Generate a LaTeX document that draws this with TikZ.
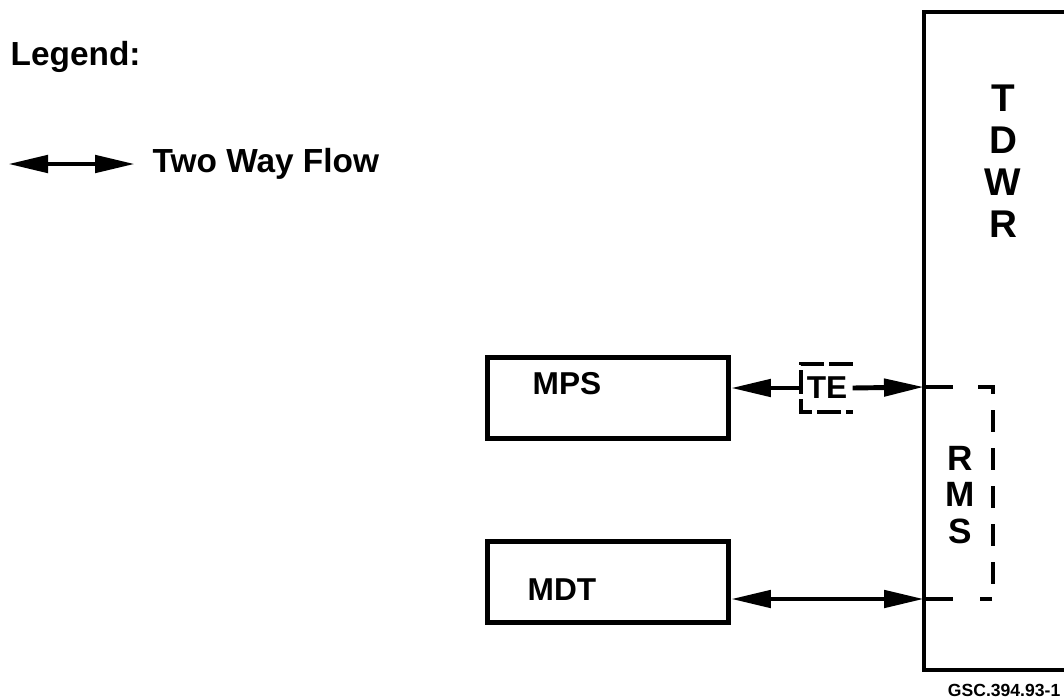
\documentclass[tikz,border=0pt]{standalone}
\usepackage{fontspec}
\setmainfont{Liberation Sans}
\usetikzlibrary{positioning,arrows.meta}

\tikzset{
  box/.style={draw, line width=1.4pt, minimum width=24.1mm, minimum height=8.1mm},
  tip/.style={Triangle[length=4mm,width=1.7mm]},
  flow/.style={line width=1.4pt, {Triangle[length=4mm,width=1.7mm]}-{Triangle[length=4mm,width=1.7mm]}},
  halfflow/.style={line width=1.4pt, -{Triangle[length=4mm,width=1.7mm]}},
  stub/.style={line width=1.4pt},
  lbl/.style={font=\bfseries\fontsize{9}{10}\selectfont, inner sep=0pt},
  rmsline/.style={line width=1.1pt, dash pattern=on 2.2mm off 1.6mm},
}

\begin{document}
\begin{tikzpicture}[x=0.1mm,y=-0.1mm]
        \useasboundingbox (0,0) rectangle (1064,698);

        \coordinate (tdwrnw) at (924,12);
        \coordinate (tdwrse) at (1090,670);
        \coordinate (tdwrA) at (924,387);
        \coordinate (tdwrB) at (924,599);
        \coordinate (rmsA) at (953,387);
        \coordinate (rmsB) at (953,599);
        \coordinate (legl) at (8,164);
        \coordinate (legr) at (135,164);

        % legend
        \node[lbl, font=\bfseries\fontsize{9.5}{10}\selectfont, anchor=base west] (legend) at (10,65) {Legend:};
        \draw[flow] (legl) -- (legr);
        \node[lbl, font=\bfseries\fontsize{9.5}{10}\selectfont, right=1.7mm of legr] (twoway) {Two Way Flow};

        % boxes
        \draw[line width=1.4pt] (tdwrnw) rectangle (tdwrse);
        \node[lbl, font=\bfseries\fontsize{11}{12}\selectfont, align=center] (tdwr) at (1003,161) {T\\D\\W\\R};
        \node[box] (mps) at (608,398) {};
        \node[box] (mdt) at (608,582) {};
        \node[lbl, anchor=west] (mpslbl) at (532,384) {MPS};
        \node[lbl, anchor=west] (mdtlbl) at (527,590) {MDT};

        % TE
        \node[lbl, minimum width=5mm, minimum height=4.7mm] (te) at (827,388) {TE};
        \draw[line width=1.1pt, dash pattern=on 2.4mm off 0.5mm] (te.north east) -- (te.north west) -- (te.south west) -- (te.south east);

        % flows
        \draw[halfflow] (te.west) -- (te.west -| mps.east);
        \draw[halfflow] (te.east) -- (tdwrA);
        \draw[stub] (tdwrA) -- (rmsA);
        \draw[flow] (tdwrB -| mdt.east) -- (tdwrB);
        \draw[stub] (tdwrB) -- (rmsB);

        % RMS
        \draw[rmsline] ([xshift=2.5mm]rmsA) -| ([xshift=4mm]rmsB) -- ([xshift=2.7mm]rmsB);
        \node[lbl, font=\bfseries\fontsize{10}{10.5}\selectfont, align=center] (rms) at (960,495) {R\\M\\S};

        \node[lbl, font=\bfseries\fontsize{5}{6}\selectfont, anchor=east] (figid) at (1061,690) {GSC.394.93-1};
    \end{tikzpicture}
\end{document}
